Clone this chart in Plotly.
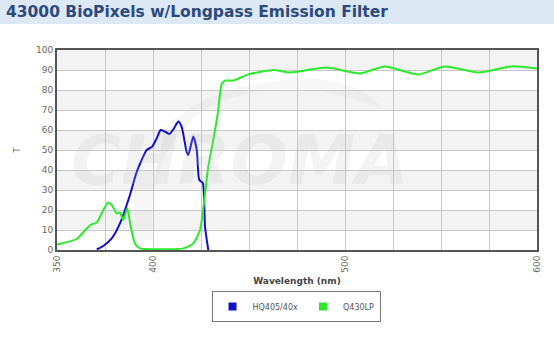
import plotly.graph_objects as go

# Data
blue_nm = [370.7, 374.1, 378.5, 382.8, 388.0, 391.5, 394.1, 396.7, 399.6, 401.9, 404.0, 406.2,
           408.5, 410.6, 413.2, 414.9, 417.5, 418.4, 421.0, 422.8, 424.1, 425.9, 427.1, 428.8]
blue_T = [0.3, 2.0, 5.8, 13.3, 27.5, 39.0, 45.0, 50.0, 51.7, 55.8, 60.0, 59.2,
          58.0, 60.3, 64.2, 61.7, 49.2, 47.5, 56.7, 50.0, 35.0, 33.7, 11.7, 0.0]

green_nm = [350.0, 360.2, 365.5, 368.0, 370.7, 374.1, 376.7, 378.5, 381.1, 382.8, 384.5, 386.6,
            388.4, 390.6, 393.2, 400.0, 410.0, 415.8, 421.0, 424.5, 427.1, 428.8, 431.4, 433.7,
            435.8, 437.5, 441.8, 449.6, 462.7, 471.4, 490.4, 507.8, 520.8, 538.2, 552.1, 569.4,
            586.8, 600.0]
green_T = [2.8, 5.5, 10.8, 12.8, 13.7, 20.0, 23.8, 22.5, 18.3, 18.7, 15.0, 20.8,
           11.7, 3.3, 0.8, 0.4, 0.4, 0.8, 3.3, 10.0, 28.3, 41.7, 55.0, 68.0,
           83.0, 84.7, 84.7, 87.8, 90.0, 88.8, 91.2, 88.3, 91.7, 87.8, 91.8, 88.8,
           91.8, 90.8]

x_ticks = [350, 375, 400, 425, 450, 475, 500, 525, 550, 575, 600]
x_labels = ["350", "", "400", "", "", "", "500", "", "", "", "600"]
y_ticks = [0, 10, 20, 30, 40, 50, 60, 70, 80, 90, 100]

series_names = ["HQ405/40x", "Q430LP"]
colors = ["#1010c8", "#2bea2b"]

fig = go.Figure()
fig.add_trace(go.Scatter(x=blue_nm, y=blue_T, mode="lines", name=series_names[0], showlegend=False,
                         line=dict(color=colors[0], width=2, shape="spline", smoothing=0.6)))
fig.add_trace(go.Scatter(x=green_nm, y=green_T, mode="lines", name=series_names[1], showlegend=False,
                         line=dict(color=colors[1], width=2, shape="spline", smoothing=0.6)))
# legend entries with square swatches
for name, c in zip(series_names, colors):
    fig.add_trace(go.Scatter(x=[None], y=[None], mode="markers", name=name,
                             marker=dict(symbol="square", size=8, color=c)))

shapes = []
# alternating bands
for lo in range(10, 100, 20):
    shapes.append(dict(type="rect", xref="paper", x0=0, x1=1, yref="y", y0=lo, y1=lo + 10,
                       fillcolor="#f3f3f3", line=dict(width=0), layer="below"))
# title bar
shapes.append(dict(type="rect", xref="paper", yref="paper", x0=-0.2, x1=1.1,
                   y0=(250 - 24) / 200, y1=1.3, fillcolor="#dce8f4", line=dict(width=0)))
# watermark swoosh
shapes.append(dict(type="path", xref="x", yref="y",
                   path="M 392,5 Q 380,60 440,80 Q 500,95 520,70 Q 470,90 430,72 Q 395,50 400,5 Z",
                   fillcolor="rgba(200,200,200,0.15)", line=dict(width=0), layer="below"))

annotations = [
    dict(text="43000 BioPixels w/Longpass Emission Filter", xref="paper", yref="paper",
         x=-57 / 480 + 0.008, y=(250 - 12) / 200, xanchor="left", yanchor="middle", showarrow=False,
         font=dict(family="DejaVu Sans", size=15.5, color="#2c4a7c", weight="bold")),
    dict(text="<i><b>CHROMA</b></i>", xref="x", yref="y", x=445, y=45, showarrow=False,
         font=dict(family="DejaVu Sans", size=68, color="rgba(190,190,190,0.18)")),
]

fig.update_layout(
    width=554, height=341,
    margin=dict(l=57, r=17, t=50, b=91),
    paper_bgcolor="white", plot_bgcolor="white",
    shapes=shapes, annotations=annotations,
    showlegend=True,
    legend=dict(orientation="h", x=0.498, xanchor="center", y=-0.205, yanchor="top",
                bordercolor="#777", borderwidth=1, bgcolor="white",
                font=dict(family="DejaVu Sans", size=8, color="#555"),
                itemwidth=30, tracegroupgap=0),
    xaxis=dict(range=[350, 600], tickvals=x_ticks, ticktext=x_labels, tickangle=-90,
               showgrid=True, gridcolor="#c8c8c8", gridwidth=1,
               showline=True, linecolor="#555", linewidth=2, mirror=True,
               ticks="", zeroline=False,
               tickfont=dict(family="DejaVu Sans", size=9, color="#666"),
               title=dict(text="<b>Wavelength (nm)</b>", standoff=6,
                          font=dict(family="DejaVu Sans", size=9, color="#444"))),
    yaxis=dict(range=[0, 100], tickvals=y_ticks,
               showgrid=True, gridcolor="#c8c8c8", gridwidth=1,
               showline=True, linecolor="#555", linewidth=2, mirror=True,
               ticks="", zeroline=False,
               tickfont=dict(family="DejaVu Sans", size=9, color="#666"),
               title=dict(text="T", standoff=14,
                          font=dict(family="DejaVu Sans", size=8, color="#666"))),
)

fig.write_html("out.html")
